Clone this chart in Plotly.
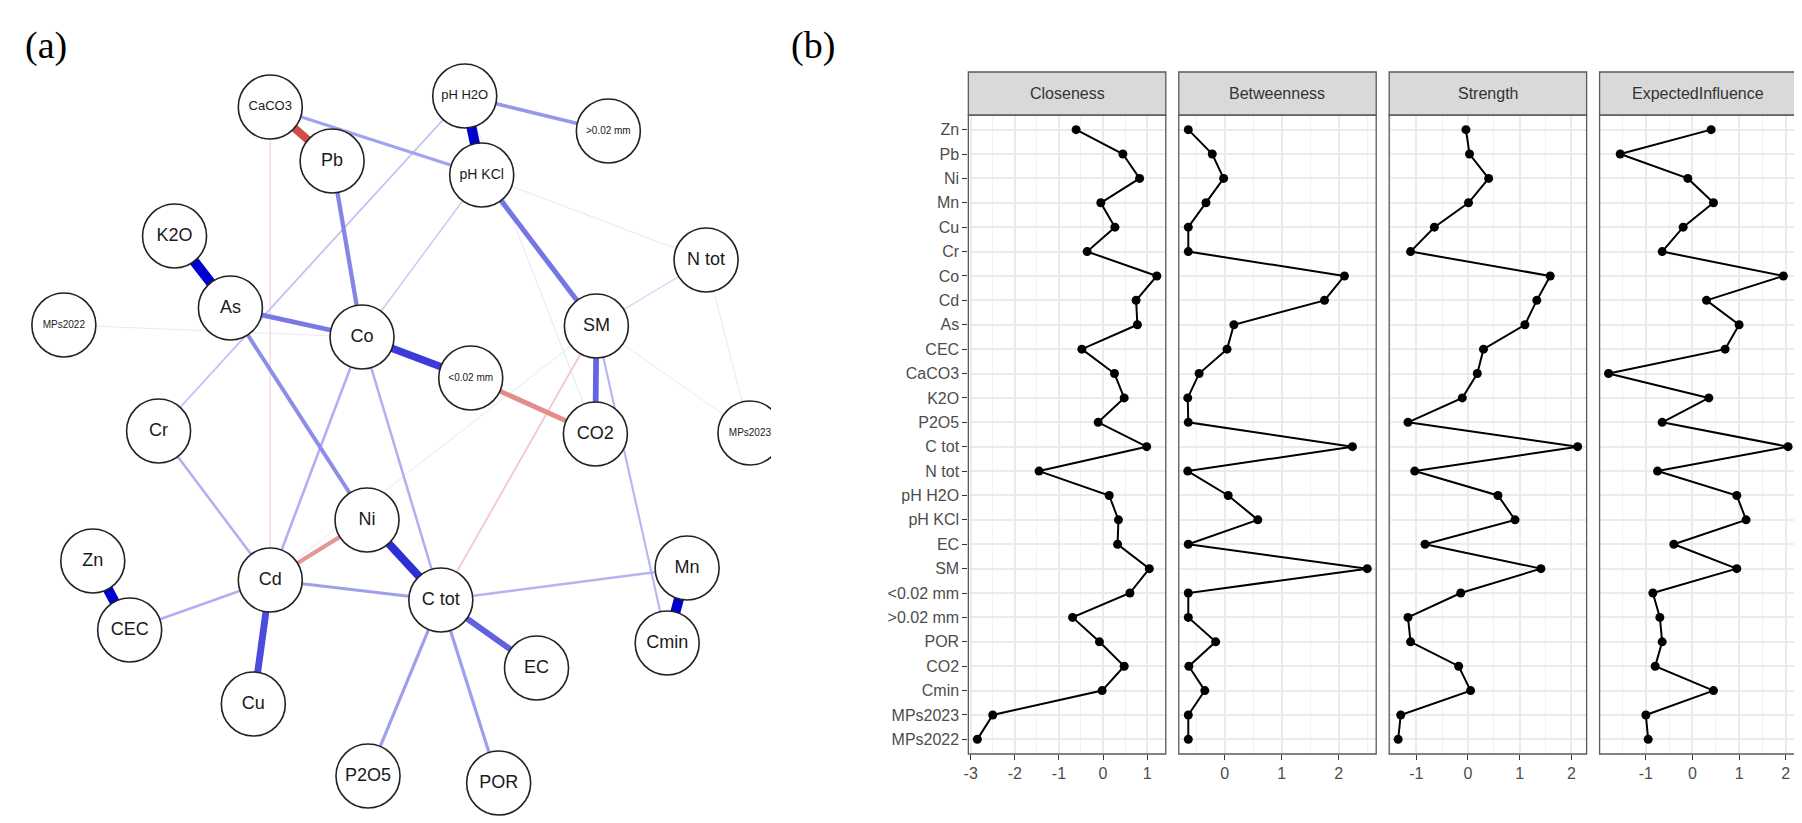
import plotly.graph_objects as go

W, H = 1802, 823

# ---------------- data: network (panel a) ----------------
node_names = ["CaCO3", "Pb", "pH H2O", ">0.02 mm", "pH KCl", "K2O", "N tot", "As",
              "MPs2022", "Co", "SM", "<0.02 mm", "Cr", "CO2", "MPs2023", "Ni", "Zn",
              "Cd", "CEC", "Mn", "Cmin", "C tot", "EC", "Cu", "P2O5", "POR"]
layout_x = [258, 320, 453, 597, 470, 162, 695, 218, 51, 350, 585, 459, 146, 584, 739,
            355, 80, 258, 117, 676, 656, 429, 525, 241, 356, 487]
layout_y = [99, 153, 88, 123, 167, 228, 252, 300, 317, 329, 318, 370, 423, 426, 425,
            512, 553, 572, 622, 560, 635, 592, 660, 696, 768, 775]

edge_from = ["CaCO3", "pH H2O", "K2O", "Zn", "Mn", "Ni", "Co", "Cd", "C tot", "SM",
             "pH KCl", "As", "Pb", "<0.02 mm", "Cd", "As", "pH H2O", "CaCO3", "Cd",
             "C tot", "C tot", "Co", "Co", "Cr", "CEC", "C tot", "SM", "pH H2O",
             "pH KCl", "CaCO3", "SM", "SM", "pH KCl", "SM", "SM", "N tot", "MPs2022",
             "pH H2O"]
edge_to = ["Pb", "pH KCl", "As", "CEC", "Cmin", "C tot", "<0.02 mm", "Cu", "EC", "CO2",
           "SM", "Co", "Co", "CO2", "Ni", "Ni", ">0.02 mm", "pH KCl", "C tot",
           "P2O5", "POR", "Cd", "C tot", "Cd", "Cd", "Mn", "Cmin", "Cr",
           "Co", "Cd", "C tot", "N tot", "N tot", "MPs2023", "Cd", "MPs2023", "Co",
           "CO2"]
edge_weight = [-0.45, 0.56, 0.56, 0.56, 0.56, 0.45, 0.42, 0.38, 0.33, 0.32,
               0.28, 0.27, 0.24, -0.27, -0.24, 0.22, 0.2, 0.17, 0.18,
               0.18, 0.18, 0.14, 0.14, 0.14, 0.14, 0.13, 0.12, 0.1,
               0.08, -0.07, -0.1, 0.06, 0.03, 0.02, 0.03, 0.02, 0.02,
               0.03]

# ---------------- data: centrality (panel b) ----------------
variables = ["Zn", "Pb", "Ni", "Mn", "Cu", "Cr", "Co", "Cd", "As", "CEC", "CaCO3", "K2O",
             "P2O5", "C tot", "N tot", "pH H2O", "pH KCl", "EC", "SM", "<0.02 mm",
             ">0.02 mm", "POR", "CO2", "Cmin", "MPs2023", "MPs2022"]
closeness = [-0.61, 0.45, 0.83, -0.05, 0.27, -0.36, 1.22, 0.75, 0.78, -0.48, 0.26, 0.48,
             -0.11, 0.99, -1.45, 0.14, 0.35, 0.33, 1.05, 0.61, -0.69, -0.08, 0.48, -0.02,
             -2.5, -2.85]
betweenness = [-0.64, -0.22, -0.02, -0.33, -0.64, -0.64, 2.1, 1.75, 0.16, 0.04, -0.45,
               -0.65, -0.64, 2.24, -0.65, 0.06, 0.58, -0.64, 2.5, -0.64, -0.64, -0.16,
               -0.63, -0.35, -0.64, -0.64]
strength = [-0.04, 0.03, 0.40, 0.01, -0.65, -1.11, 1.59, 1.33, 1.10, 0.30, 0.18, -0.11,
            -1.16, 2.12, -1.03, 0.58, 0.91, -0.83, 1.41, -0.14, -1.16, -1.11, -0.18, 0.05,
            -1.3, -1.35]
expected_influence = [0.4, -1.55, -0.1, 0.45, -0.2, -0.65, 1.95, 0.3, 1.0, 0.7, -1.8,
                      0.35, -0.65, 2.05, -0.75, 0.95, 1.15, -0.4, 0.95, -0.85, -0.7,
                      -0.65, -0.8, 0.45, -1.0, -0.95]
measures = ["Closeness", "Betweenness", "Strength", "ExpectedInfluence"]
tick_values = [[-3, -2, -1, 0, 1], [0, 1, 2], [-1, 0, 1, 2], [-1, 0, 1, 2]]

# ---------------- figure ----------------
fig = go.Figure()

# network axes: 1 data unit = 1 pixel
fig.update_layout(
    xaxis=dict(domain=[0, 760 / W], range=[0, 760], visible=False, fixedrange=True),
    yaxis=dict(domain=[0, 1], range=[H, 0], visible=False, fixedrange=True),
)

pos = {n: (x, y) for n, x, y in zip(node_names, layout_x, layout_y)}
maxw = 0.56
order = sorted(range(len(edge_weight)), key=lambda i: abs(edge_weight[i]))
for i in order:
    a, b, w = edge_from[i], edge_to[i], edge_weight[i]
    t = min(1.0, abs(w) / maxw)
    base = (0, 0, 205) if w > 0 else (200, 35, 35)
    t2 = 0.08 + 0.92 * t
    col = tuple(int(round(255 * (1 - t2) + c * t2)) for c in base)
    width = max(0.8, abs(w) * 18)
    fig.add_trace(go.Scatter(
        x=[pos[a][0], pos[b][0]], y=[pos[a][1], pos[b][1]], mode="lines",
        line=dict(color="rgb(%d,%d,%d)" % col, width=width),
        hoverinfo="skip", showlegend=False, xaxis="x", yaxis="y"))

small = {"MPs2022": 10, "MPs2023": 10, ">0.02 mm": 10, "<0.02 mm": 10,
         "CaCO3": 13, "pH H2O": 13, "pH KCl": 14}
label_sizes = [small.get(n, 18) for n in node_names]
fig.add_trace(go.Scatter(
    x=layout_x, y=layout_y, mode="markers+text",
    marker=dict(size=64, color="white", line=dict(color="#222222", width=1.6)),
    text=node_names, textposition="middle center",
    textfont=dict(size=label_sizes, color="#1a1a1a", family="Liberation Sans, Arial"),
    hoverinfo="skip", showlegend=False, xaxis="x", yaxis="y"))

# ---------------- centrality panels ----------------
series = [closeness, betweenness, strength, expected_influence]
panel_left = [958, 1169, 1380, 1591]
panel_w = 198
top_px, bot_px, strip_top = 107, 746, 64
grid = "#EBEBEB"
for k, (name, vals) in enumerate(zip(measures, series)):
    ax = k + 2
    lo, hi = min(vals), max(vals)
    span = hi - lo
    xr = [lo - 0.05 * span, hi + 0.05 * span]
    l, r = panel_left[k], panel_left[k] + panel_w
    fig.layout["xaxis%d" % ax] = dict(
        domain=[l / W, r / W], range=xr, anchor="y%d" % ax,
        tickvals=tick_values[k], ticktext=[str(v) for v in tick_values[k]],
        ticks="outside", ticklen=5, tickcolor="#333333",
        tickfont=dict(size=16, color="#4D4D4D", family="Liberation Sans, Arial"),
        showgrid=True, gridcolor=grid, gridwidth=1.6, zeroline=False,
        minor=dict(dtick=0.5, tick0=0, showgrid=True, gridcolor="#F2F2F2", gridwidth=1),
        showline=False, fixedrange=True)
    fig.layout["yaxis%d" % ax] = dict(
        domain=[1 - bot_px / H, 1 - top_px / H], anchor="x%d" % ax,
        type="category", categoryorder="array", categoryarray=variables,
        range=[len(variables) - 0.4, -0.6],
        showticklabels=(k == 0), ticks="outside" if k == 0 else "", ticklen=5,
        tickcolor="#333333",
        tickfont=dict(size=16, color="#4D4D4D", family="Liberation Sans, Arial"),
        showgrid=True, gridcolor=grid, gridwidth=1.6, zeroline=False,
        showline=False, fixedrange=True)
    fig.add_trace(go.Scatter(
        x=vals, y=variables, mode="lines+markers",
        line=dict(color="black", width=2), marker=dict(size=9, color="black"),
        xaxis="x%d" % ax, yaxis="y%d" % ax, showlegend=False, hoverinfo="skip"))
    fig.add_shape(type="rect", xref="x%d domain" % ax, yref="y%d domain" % ax,
                  x0=0, x1=1, y0=0, y1=1, line=dict(color="#5a5a5a", width=1.3),
                  fillcolor="rgba(0,0,0,0)", layer="above")
    fig.add_shape(type="rect", xref="paper", yref="paper",
                  x0=l / W, x1=r / W, y0=1 - top_px / H, y1=1 - strip_top / H,
                  line=dict(color="#5a5a5a", width=1.3), fillcolor="#D9D9D9")
    fig.add_annotation(x=(l + r) / 2 / W, y=1 - (top_px + strip_top) / 2 / H,
                       xref="paper", yref="paper", text=name, showarrow=False,
                       xanchor="center", yanchor="middle",
                       font=dict(size=16, color="#333333", family="Liberation Sans, Arial"))

fig.add_annotation(x=10 / W, y=1 - 38 / H, xref="paper", yref="paper", text="(a)",
                   showarrow=False, xanchor="left", yanchor="middle",
                   font=dict(size=38, color="black", family="Liberation Serif, Times New Roman"))
fig.add_annotation(x=778 / W, y=1 - 38 / H, xref="paper", yref="paper", text="(b)",
                   showarrow=False, xanchor="left", yanchor="middle",
                   font=dict(size=38, color="black", family="Liberation Serif, Times New Roman"))

fig.update_layout(width=W, height=H, margin=dict(l=0, r=0, t=0, b=0),
                  paper_bgcolor="white", plot_bgcolor="rgba(0,0,0,0)", showlegend=False)
fig.write_html("out.html")
